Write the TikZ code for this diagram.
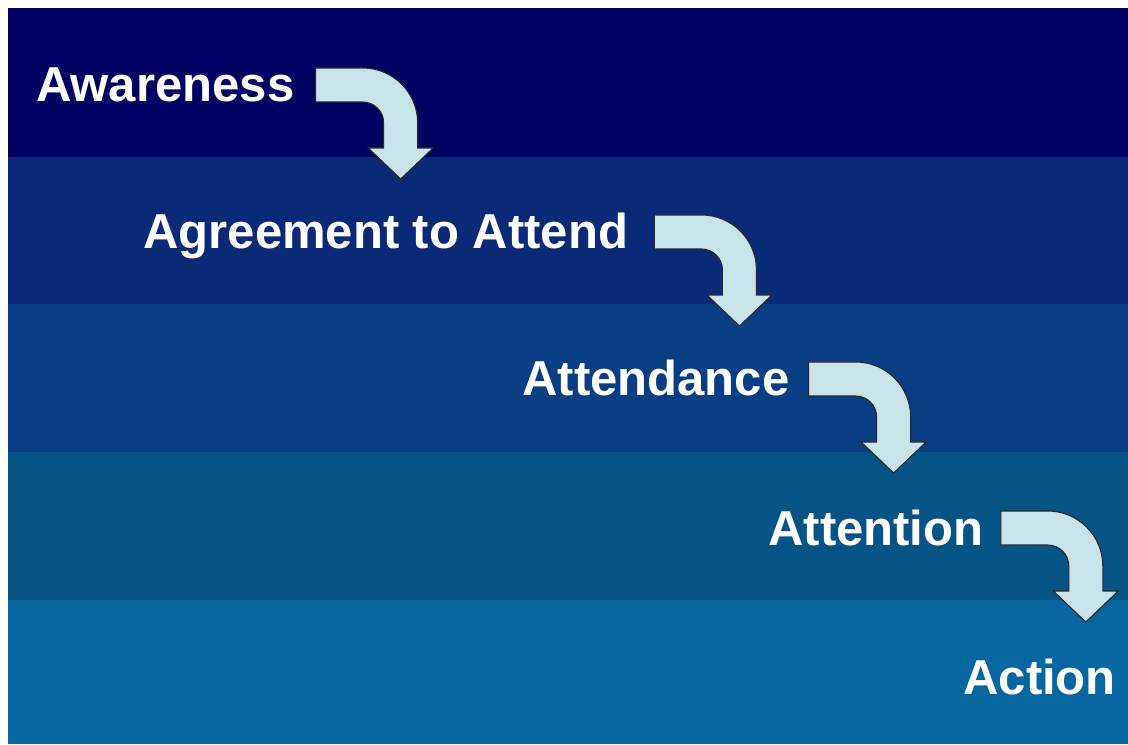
\documentclass[tikz,border=0pt]{standalone}
\usepackage{fontspec}
\setmainfont{Liberation Sans}
\usepackage{xcolor}

\definecolor{fasciaA}{RGB}{1,0,99}
\definecolor{fasciaB}{RGB}{10,42,120}
\definecolor{fasciaC}{RGB}{10,62,132}
\definecolor{fasciaD}{RGB}{6,84,134}
\definecolor{fasciaE}{RGB}{5,102,160}
\definecolor{celeste}{RGB}{200,228,234}

\begin{document}
\begin{tikzpicture}[
  x=0.02cm, y=0.02cm,
  font=\bfseries\fontsize{27.9}{32}\selectfont,
  voce/.style={text=white, inner sep=0pt, anchor=base west},
  freccia/.style={draw=black!85, line width=0.6pt, fill=celeste},
  svolta/.pic={
    \draw[freccia] (0,0) -- (47,0) arc[start angle=90, end angle=0, radius=55]
      -- (102,-80) -- (117.5,-80) -- (85,-111) -- (52.5,-80) -- (68,-80)
      -- (68,-55) arc[start angle=0, end angle=90, radius=21] -- (0,-34) -- cycle;
  }
]

\useasboundingbox (0,0) rectangle (1128,744);
\fill[white] (0,0) rectangle (1128,744);

% fasce di sfondo
\fill[fasciaA] (8,587) rectangle (1128,736);
\fill[fasciaB] (8,440) rectangle (1128,587);
\fill[fasciaC] (8,292) rectangle (1128,440);
\fill[fasciaD] (8,144) rectangle (1128,292);
\fill[fasciaE] (8,0)   rectangle (1128,144);

\node[voce] (awareness)  at (36,642)  {Awareness};
\node[voce] (agreement)  at (143,495) {Agreement to Attend};
\node[voce] (attendance) at (522,348) {Attendance};
\node[voce] (attention)  at (768,199) {Attention};
\node[voce] (action)     at (963,50)  {Action};

\pic at ([shift={(21,34)}]awareness.base east)  {svolta};
\pic at ([shift={(26,34)}]agreement.base east)  {svolta};
\pic at ([shift={(19,34)}]attendance.base east) {svolta};
\pic at ([shift={(17,34)}]attention.base east)  {svolta};

\end{tikzpicture}
\end{document}
